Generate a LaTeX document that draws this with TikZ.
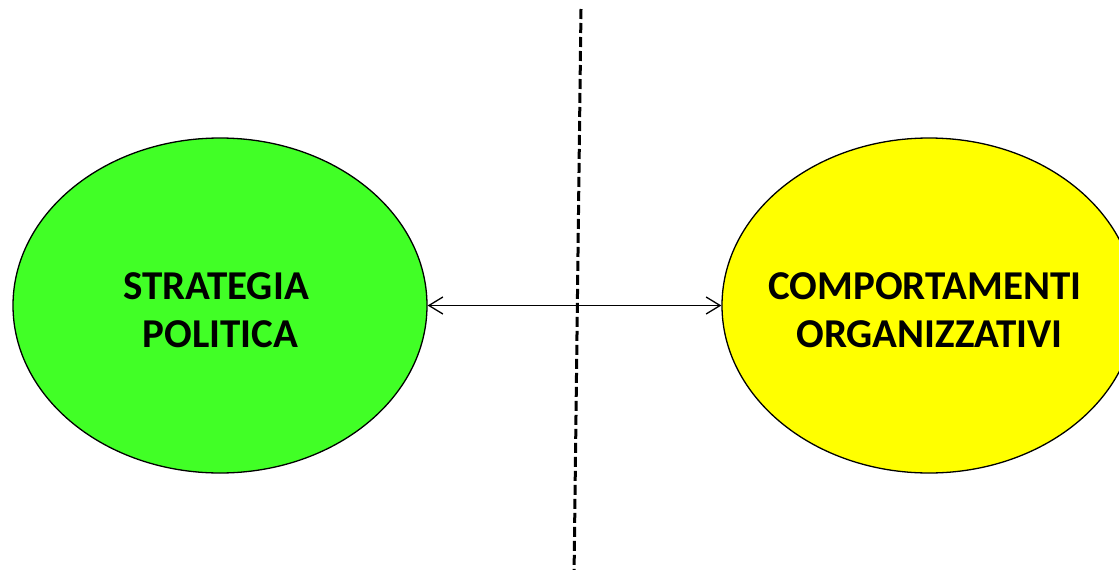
\documentclass[tikz,border=0pt]{standalone}
\usepackage{fontspec}
\setmainfont{Carlito}
\usetikzlibrary{shapes.geometric,arrows.meta}
\definecolor{lgreen}{HTML}{41FF26}
\definecolor{lyellow}{HTML}{FFFF00}
\tikzset{
  blob/.style={ellipse, draw=black, line width=1.3pt, minimum width=414pt, minimum height=335pt, inner sep=0pt},
  label/.style={align=center, inner sep=0pt, font=\fontsize{41}{48}\selectfont\bfseries},
  link/.style={line width=1.3pt, {Straight Barb[length=14pt,width=17pt,line width=1.3pt]}-{Straight Barb[length=14pt,width=17pt,line width=1.3pt]}},
  divider/.style={line width=3pt, dash pattern=on 10pt off 4pt}
}
\begin{document}
\begin{tikzpicture}[x=1pt,y=-1pt]
\useasboundingbox (0,0) rectangle (1119,570);
\clip (0,0) rectangle (1119,570);
\node[blob, fill=lgreen] (L) at (220,305.5) {};
\node[blob, fill=lyellow] (R) at (929,305.5) {};
\node[label] (Lt) at (216,310) {STRATEGIA\\\hspace*{9pt}POLITICA};
\node[label] (Rt) at (925,310) {COMPORTAMENTI\\\hspace*{9pt}ORGANIZZATIVI};
\coordinate (dt) at (581,9);
\coordinate (db) at (574,578);
\draw[divider] (dt) -- (db);
\draw[link] (L.east) -- (R.west);
\end{tikzpicture}
\end{document}
